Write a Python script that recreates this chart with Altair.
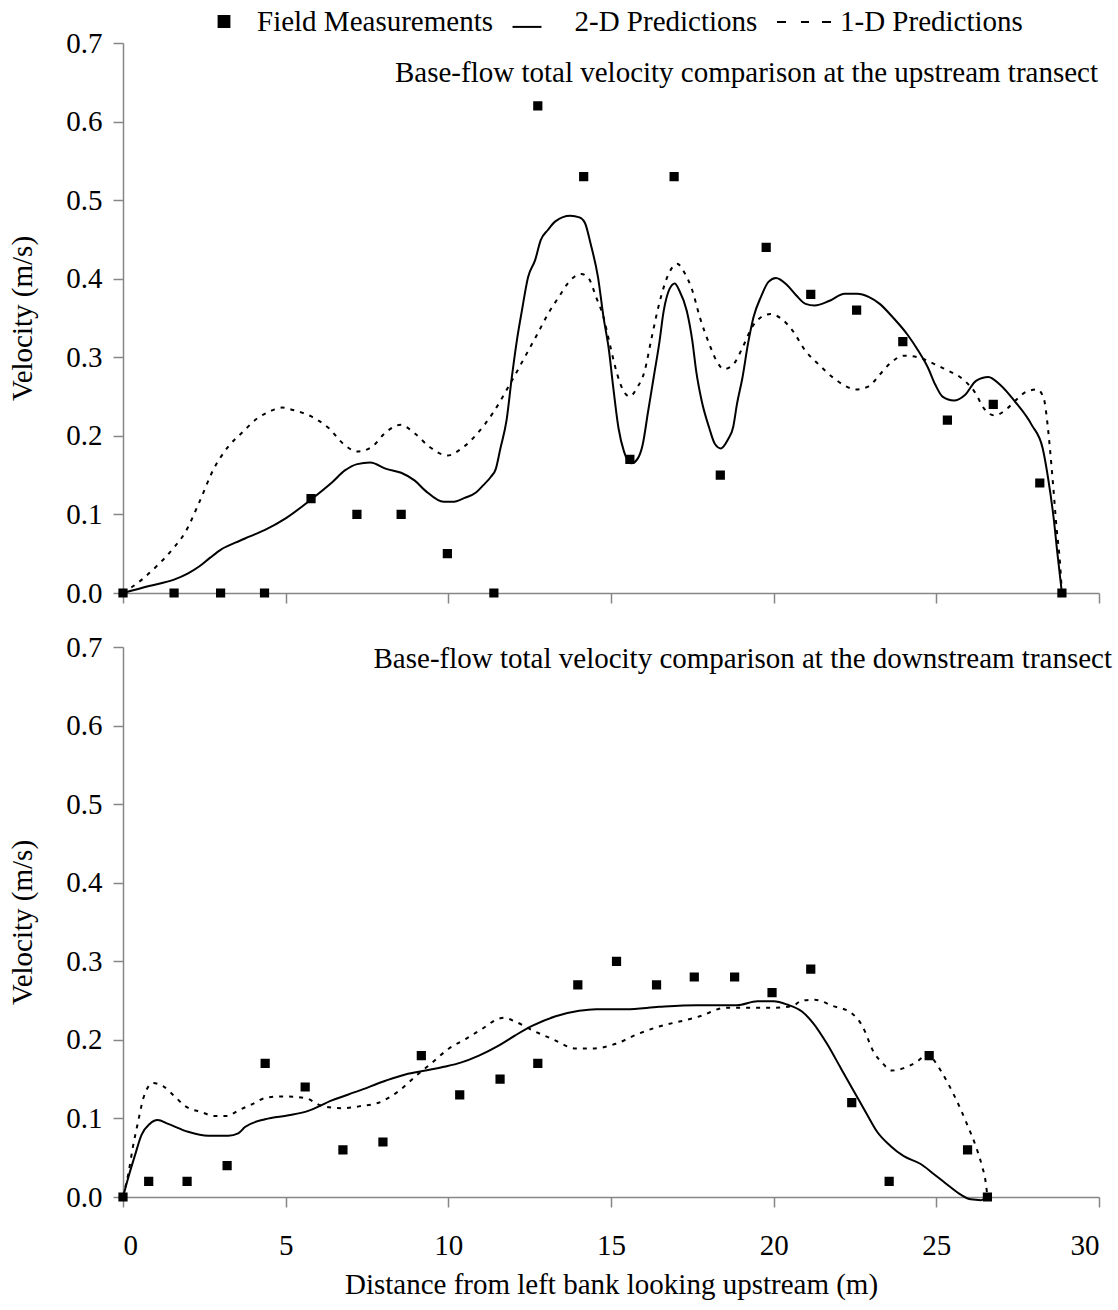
import altair as alt
import pandas as pd

FONT = "Liberation Serif"

# ---- Upstream transect -------------------------------------------------
up_field_x = [0, 1.57, 3.0, 4.35, 5.78, 7.19, 8.55, 9.97, 11.4, 12.75, 14.16,
              15.58, 16.94, 18.36, 19.77, 21.14, 22.55, 23.97, 25.34, 26.75,
              28.18, 28.86]
up_field_y = [0, 0, 0, 0, 0.12, 0.10, 0.10, 0.05, 0, 0.62, 0.53,
              0.17, 0.53, 0.15, 0.44, 0.38, 0.36, 0.32, 0.22, 0.24,
              0.14, 0]

up_2d_x = [0, 0.8, 1.57, 2.0, 2.35, 2.68, 3.0, 3.45, 3.9, 4.35, 5.0, 5.78, 6.43,
           6.82, 7.2, 7.6, 8.09, 8.55, 8.97, 9.3, 9.86, 10.13, 10.5, 10.85,
           11.07, 11.31, 11.46, 11.6, 11.79, 11.95, 12.12, 12.26, 12.45, 12.67,
           12.84, 13.06, 13.29, 13.75, 14.03, 14.2, 14.37, 14.6, 14.77, 14.94,
           15.06, 15.23, 15.4, 15.63, 15.82, 15.97, 16.14, 16.31, 16.48, 16.62,
           16.8, 16.96, 17.1, 17.33, 17.5, 17.62, 17.79, 18.02, 18.19, 18.38,
           18.59, 18.76, 18.87, 19.04, 19.21, 19.38, 19.61, 19.84, 20.07, 20.41,
           20.69, 20.98, 21.26, 21.72, 22.18, 22.57, 22.92, 23.26, 23.66, 24.11,
           24.45, 24.74, 24.97, 25.19, 25.54, 25.88, 26.22, 26.6, 26.96, 27.41,
           27.93, 28.27, 28.44, 28.61, 28.72, 28.86]
up_2d_y = [0, 0.009, 0.017, 0.025, 0.034, 0.045, 0.055, 0.064, 0.072, 0.080,
           0.095, 0.119, 0.141, 0.156, 0.164, 0.166, 0.158, 0.153, 0.143, 0.130,
           0.116, 0.116, 0.121, 0.128, 0.137, 0.148, 0.158, 0.184, 0.220, 0.274,
           0.325, 0.359, 0.402, 0.424, 0.449, 0.462, 0.473, 0.480, 0.478, 0.471,
           0.445, 0.402, 0.351, 0.308, 0.265, 0.210, 0.180, 0.165, 0.171, 0.188,
           0.231, 0.274, 0.317, 0.359, 0.387, 0.394, 0.385, 0.359, 0.321, 0.282,
           0.244, 0.210, 0.190, 0.184, 0.195, 0.212, 0.240, 0.274, 0.317, 0.351,
           0.377, 0.396, 0.401, 0.392, 0.379, 0.368, 0.366, 0.372, 0.381, 0.381,
           0.377, 0.368, 0.351, 0.329, 0.308, 0.287, 0.265, 0.250, 0.245, 0.252,
           0.270, 0.275, 0.265, 0.244, 0.214, 0.184, 0.145, 0.094, 0.051, 0]

up_1d_x = [0, 0.58, 1.03, 1.57, 1.91, 2.35, 2.79, 3.23, 3.68, 4.12, 4.56, 4.89,
           5.22, 5.77, 6.32, 6.77, 7.2, 7.65, 8.09, 8.53, 8.97, 9.42, 9.97,
           10.41, 10.85, 11.4, 11.95, 12.4, 12.73, 13.06, 13.4, 13.75, 14.09,
           14.32, 14.54, 14.77, 14.94, 15.11, 15.28, 15.57, 15.8, 16.03, 16.25,
           16.48, 16.77, 17.03, 17.28, 17.5, 17.73, 18.02, 18.25, 18.47, 18.76,
           19.04, 19.33, 19.61, 19.9, 20.24, 20.58, 20.98, 21.38, 21.83, 22.23,
           22.52, 22.92, 23.26, 23.6, 24.0, 24.45, 24.91, 25.36, 25.82, 26.16,
           26.5, 26.79, 27.13, 27.41, 27.76, 28.1, 28.3, 28.42, 28.5, 28.59,
           28.7, 28.8, 28.86]
up_1d_y = [0, 0.017, 0.034, 0.058, 0.077, 0.116, 0.158, 0.186, 0.205, 0.222,
           0.232, 0.236, 0.233, 0.225, 0.210, 0.190, 0.180, 0.186, 0.205, 0.214,
           0.203, 0.186, 0.175, 0.184, 0.201, 0.231, 0.270, 0.304, 0.329, 0.355,
           0.377, 0.398, 0.406, 0.400, 0.377, 0.351, 0.321, 0.291, 0.267, 0.250,
           0.261, 0.282, 0.325, 0.368, 0.406, 0.419, 0.406, 0.385, 0.351, 0.317,
           0.295, 0.285, 0.291, 0.312, 0.338, 0.351, 0.355, 0.349, 0.334, 0.308,
           0.291, 0.274, 0.263, 0.259, 0.263, 0.278, 0.293, 0.302, 0.300, 0.292,
           0.283, 0.272, 0.257, 0.233, 0.226, 0.233, 0.244, 0.256, 0.259, 0.248,
           0.214, 0.180, 0.137, 0.081, 0.039, 0]

# ---- Downstream transect -----------------------------------------------
dn_field_x = [0, 0.79, 1.97, 3.2, 4.37, 5.6, 6.76, 7.99, 9.17, 10.35, 11.59,
              12.75, 13.98, 15.17, 16.4, 17.56, 18.8, 19.95, 21.14, 22.4,
              23.55, 24.78, 25.96, 26.57]
dn_field_y = [0, 0.02, 0.02, 0.04, 0.17, 0.14, 0.06, 0.07, 0.18, 0.13, 0.15,
              0.17, 0.27, 0.30, 0.27, 0.28, 0.28, 0.26, 0.29, 0.12,
              0.02, 0.18, 0.06, 0]

dn_2d_x = [0, 0.15, 0.36, 0.57, 0.82, 1.06, 1.39, 2.0, 2.62, 3.24, 3.54, 3.75,
           4.37, 5.09, 5.65, 6.42, 7.24, 8.07, 8.68, 9.3, 9.91, 10.38, 10.94,
           11.56, 12.07, 12.59, 13.3, 14.02, 14.54, 15.46, 16.48, 17.62, 18.87,
           19.5, 20.0, 20.41, 20.87, 21.2, 21.64, 22.05, 22.46, 22.87, 23.18,
           23.59, 24.0, 24.52, 24.93, 25.39, 25.75, 26.06, 26.37, 26.57]
dn_2d_y = [0, 0.023, 0.052, 0.079, 0.093, 0.098, 0.093, 0.083, 0.078, 0.078,
           0.081, 0.089, 0.099, 0.104, 0.109, 0.123, 0.135, 0.148, 0.156, 0.161,
           0.166, 0.171, 0.180, 0.193, 0.206, 0.218, 0.230, 0.237, 0.239, 0.239,
           0.242, 0.244, 0.244, 0.249, 0.249, 0.245, 0.236, 0.222, 0.195, 0.165,
           0.135, 0.105, 0.083, 0.065, 0.052, 0.042, 0.029, 0.014, 0.003, -0.003,
           -0.004, 0]

dn_1d_x = [0, 0.17, 0.31, 0.46, 0.62, 0.77, 0.92, 1.23, 1.59, 1.9, 2.41, 2.83,
           3.19, 3.54, 3.96, 4.37, 4.88, 5.6, 6.11, 6.73, 7.35, 7.86, 8.48, 9.0,
           9.5, 10.02, 10.53, 11.04, 11.56, 11.71, 12.07, 12.59, 13.2, 13.92,
           14.44, 15.15, 15.8, 16.48, 17.28, 17.73, 18.53, 19.21, 20.07, 20.58,
           20.87, 21.26, 21.83, 22.36, 22.72, 23.08, 23.33, 23.64, 24.0, 24.36,
           24.78, 24.93, 25.34, 25.7, 25.96, 26.21, 26.4, 26.52, 26.57]
dn_1d_y = [0, 0.031, 0.065, 0.095, 0.125, 0.140, 0.145, 0.141, 0.128, 0.116,
           0.108, 0.103, 0.103, 0.110, 0.118, 0.126, 0.128, 0.126, 0.116, 0.113,
           0.116, 0.120, 0.135, 0.154, 0.171, 0.189, 0.201, 0.214, 0.227, 0.228,
           0.223, 0.212, 0.201, 0.189, 0.189, 0.195, 0.207, 0.217, 0.225, 0.230,
           0.241, 0.241, 0.241, 0.243, 0.250, 0.251, 0.243, 0.235, 0.218, 0.184,
           0.171, 0.161, 0.164, 0.171, 0.182, 0.174, 0.146, 0.116, 0.091, 0.065,
           0.040, 0.018, 0]

series_names = ["Field Measurements", "2-D Predictions", "1-D Predictions"]
x_ticks = [0, 5, 10, 15, 20, 25, 30]
y_ticks = [0, 0.1, 0.2, 0.3, 0.4, 0.5, 0.6, 0.7]
up_title = "Base-flow total velocity comparison at the upstream transect"
dn_title = "Base-flow total velocity comparison at the downstream transect"
x_title = "Distance from left bank looking upstream (m)"
y_title = "Velocity (m/s)"

# glyphs as unit-square paths: filled square, solid stroke, dashed stroke
square_path = "M-0.2,-0.2H0.2V0.2H-0.2Z"
solid_path = "M-1.074,0.2H0"
dashed_path = "M-1.111,0.02H-0.778M-0.222,0.02H0.074M0.556,0.02H0.889"

W, H = 976, 550
AXIS_GREY = "#868686"
TXT = 29


def frame(xs, ys, name):
    return pd.DataFrame({"x": xs, "y": ys, "series": name})


def panel(field, two_d, one_d, title, title_x, title_y, bottom, with_legend):
    x_axis = alt.Axis(
        values=x_ticks,
        labels=bottom,
        title=x_title if bottom else None,
        labelPadding=24,
        titlePadding=10,
    )
    y_axis = alt.Axis(values=y_ticks, format=".1f", title=y_title,
                      labelPadding=11, titlePadding=28)
    x_enc = alt.X("x:Q", scale=alt.Scale(domain=[0, 30], nice=False), axis=x_axis)
    y_enc = alt.Y("y:Q", scale=alt.Scale(domain=[0, 0.7], nice=False), axis=y_axis)

    two = alt.Chart(two_d).mark_line(
        color="black", strokeWidth=2, interpolate="monotone"
    ).encode(x=x_enc, y=y_enc)
    one = alt.Chart(one_d).mark_line(
        color="black", strokeWidth=2, strokeDash=[4, 6], interpolate="monotone"
    ).encode(x=x_enc, y=y_enc)

    if with_legend:
        shape = alt.Shape(
            "series:N",
            scale=alt.Scale(domain=series_names,
                            range=[square_path, solid_path, dashed_path]),
            legend=alt.Legend(
                orient="none", legendX=73, legendY=-49.5, direction="horizontal",
                title=None, labelFont=FONT, labelFontSize=TXT, labelColor="black",
                labelLimit=500, symbolSize=2916, labelOffset=5, columnPadding=15.5,
                padding=0, values=series_names,
                symbolStrokeWidth=2, symbolOpacity=1,
            ),
        )
    else:
        shape = alt.value(square_path)

    pts = alt.Chart(field).mark_point(
        filled=True, fill="black", stroke="black", strokeWidth=2,
        opacity=1, size=1300
    ).encode(x=x_enc, y=y_enc, shape=shape)

    label = alt.Chart(pd.DataFrame({"t": [title]})).mark_text(
        align="right", baseline="middle", font=FONT, fontSize=TXT, color="black"
    ).encode(text="t:N", x=alt.value(title_x), y=alt.value(title_y))

    return alt.layer(two, one, pts, label).properties(width=W, height=H)


top = panel(frame(up_field_x, up_field_y, series_names[0]),
            frame(up_2d_x, up_2d_y, series_names[1]),
            frame(up_1d_x, up_1d_y, series_names[2]),
            up_title, 975, 30, bottom=False, with_legend=True)
bottom = panel(frame(dn_field_x, dn_field_y, series_names[0]),
               frame(dn_2d_x, dn_2d_y, series_names[1]),
               frame(dn_1d_x, dn_1d_y, series_names[2]),
               dn_title, 989, 12, bottom=True, with_legend=False)

# fixed canvas: origin of the upper plot at (123, 43) in a 1118 x 1310 page
chart = alt.vconcat(top, bottom, spacing=54, bounds="flush").properties(
    autosize=alt.AutoSizeParams(type="none"),
    padding={"left": 123, "top": 43, "right": 19, "bottom": 1267},
).configure_view(stroke=None).configure_axis(
    grid=False,
    domainColor=AXIS_GREY,
    domainWidth=1.5,
    tickColor=AXIS_GREY,
    tickWidth=1.5,
    tickSize=10,
    labelFont=FONT,
    labelFontSize=29,
    labelColor="black",
    titleFont=FONT,
    titleFontSize=TXT,
    titleFontWeight="normal",
    titleColor="black",
)

chart.save("out.html", embed_options={"renderer": "svg", "actions": False})
